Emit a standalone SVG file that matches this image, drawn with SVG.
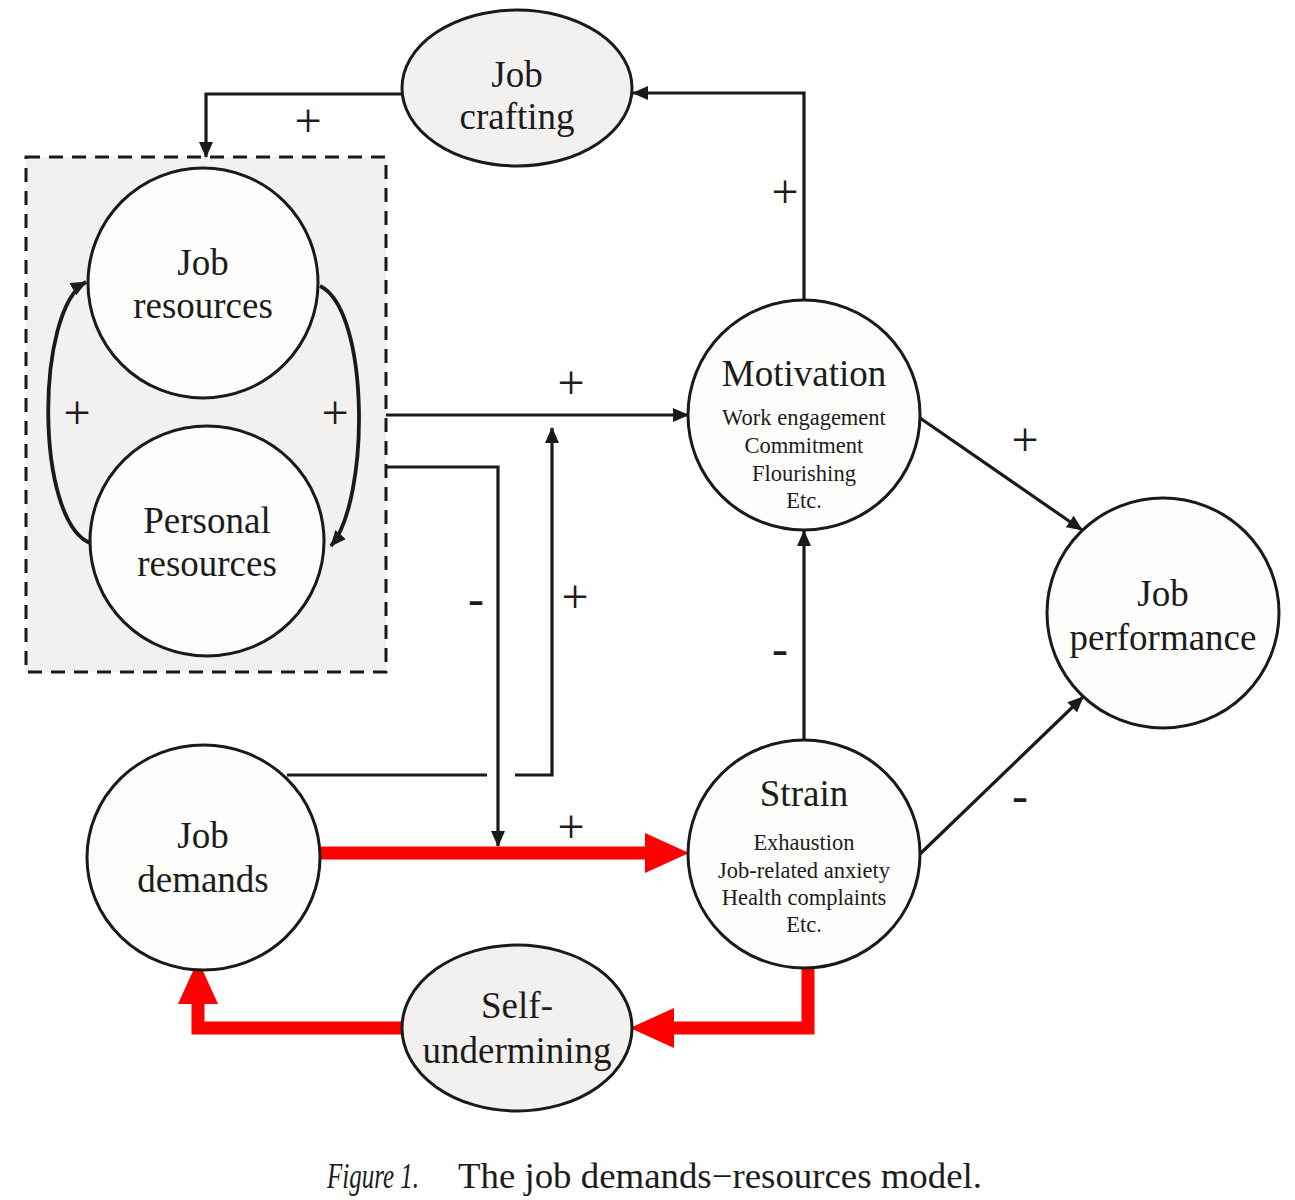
<svg xmlns="http://www.w3.org/2000/svg" width="1295" height="1200" viewBox="0 0 1295 1200">
<defs>
<style>
.node{fill:#fdfdfb;stroke:#1a1a1a;stroke-width:3}
.gray{fill:#f2f1ef;stroke:#1a1a1a;stroke-width:3}
.box{fill:#f2f1ef;stroke:#1a1a1a;stroke-width:3;stroke-dasharray:14 9}
.lbl{font-family:"Liberation Serif","Times New Roman",serif;font-size:37px;fill:#1c1c1c;text-anchor:middle}
.sm{font-family:"Liberation Serif","Times New Roman",serif;font-size:22.5px;fill:#1c1c1c;text-anchor:middle}
.sign{font-family:"Liberation Serif","Times New Roman",serif;font-size:48px;fill:#1c1c1c;text-anchor:middle}
.cap{font-family:"Liberation Serif","Times New Roman",serif;font-size:35px;fill:#1c1c1c}
.con{fill:none;stroke:#1a1a1a;stroke-width:3.2;marker-end:url(#ah)}
.plain{fill:none;stroke:#1a1a1a;stroke-width:3.2}
.curve{fill:none;stroke:#1a1a1a;stroke-width:3.8;marker-end:url(#ah)}
.red{fill:none;stroke:#ff0000;stroke-width:13;marker-end:url(#rah)}
</style>
<marker id="ah" markerUnits="userSpaceOnUse" markerWidth="16" markerHeight="14" refX="15" refY="7" orient="auto">
<path d="M0,0 L16,7 L0,14 z" fill="#1a1a1a"/>
</marker>
<marker id="rah" markerUnits="userSpaceOnUse" markerWidth="44" markerHeight="40" refX="0" refY="20" orient="auto">
<path d="M0,0 L44,20 L0,40 z" fill="#ff0000"/>
</marker>
</defs>
<rect width="1295" height="1200" fill="#ffffff"/>

<g id="resources-box">
<rect class="box" x="26" y="157" width="360" height="515"/>
</g>

<g id="connectors">
<path class="con" d="M402,94 H206 V157"/>
<path class="con" d="M804,300 V93 H633"/>
<path class="con" d="M386,415 H688"/>
<path class="con" d="M386,467 H498 V846"/>
<path class="plain" d="M287,775 H487"/>
<path class="con" d="M515,775 H552 V428"/>
<path class="con" d="M804,740 V531"/>
<path class="con" d="M920,418 L1082,530"/>
<path class="con" d="M920,854 L1083,697"/>
<path class="curve" d="M320,286 C370,310 370,500 331,546"/>
<path class="curve" d="M90,543 C35,520 35,310 86,282"/>
<path class="red" d="M320,853 H645"/>
<path class="red" d="M808,958 V1028 H674"/>
<path class="red" d="M402,1028 H198 V1004"/>
</g>

<g id="labels">
<text class="sign" x="308" y="137">+</text>
<text class="sign" x="785" y="208">+</text>
<text class="sign" x="571" y="399">+</text>
<text class="sign" x="77" y="429">+</text>
<text class="sign" x="335" y="429">+</text>
<text class="sign" x="575" y="613">+</text>
<text class="sign" x="571" y="843">+</text>
<text class="sign" x="1025" y="456">+</text>
<text class="sign" x="476" y="615">-</text>
<text class="sign" x="780" y="665">-</text>
<text class="sign" x="1020" y="812">-</text>
</g>

<g id="job-crafting">
<ellipse class="gray" cx="517" cy="88" rx="115" ry="78"/>
<text class="lbl" x="517" y="87">Job</text>
<text class="lbl" x="517" y="129">crafting</text>
</g>

<g id="job-resources">
<circle class="node" cx="203" cy="283" r="115"/>
<text class="lbl" x="203" y="275">Job</text>
<text class="lbl" x="203" y="318">resources</text>
</g>

<g id="personal-resources">
<ellipse class="node" cx="207" cy="541" rx="117" ry="115"/>
<text class="lbl" x="207" y="533">Personal</text>
<text class="lbl" x="207" y="576">resources</text>
</g>

<g id="motivation">
<ellipse class="node" cx="804" cy="415" rx="116" ry="115"/>
<text class="lbl" x="804" y="386">Motivation</text>
<text class="sm" x="804" y="425">Work engagement</text>
<text class="sm" x="804" y="453">Commitment</text>
<text class="sm" x="804" y="481">Flourishing</text>
<text class="sm" x="804" y="508">Etc.</text>
</g>

<g id="job-performance">
<ellipse class="node" cx="1163" cy="613" rx="116" ry="115"/>
<text class="lbl" x="1163" y="606">Job</text>
<text class="lbl" x="1163" y="650">performance</text>
</g>

<g id="strain">
<ellipse class="node" cx="804" cy="854" rx="116" ry="114"/>
<text class="lbl" x="804" y="806">Strain</text>
<text class="sm" x="804" y="850">Exhaustion</text>
<text class="sm" x="804" y="878">Job-related anxiety</text>
<text class="sm" x="804" y="905">Health complaints</text>
<text class="sm" x="804" y="932">Etc.</text>
</g>

<g id="job-demands">
<ellipse class="node" cx="203.5" cy="857.5" rx="116.5" ry="112.5"/>
<text class="lbl" x="203" y="848">Job</text>
<text class="lbl" x="203" y="892">demands</text>
</g>

<g id="self-undermining">
<ellipse class="gray" cx="517" cy="1028" rx="115" ry="83"/>
<text class="lbl" x="517" y="1018">Self-</text>
<text class="lbl" x="517" y="1063">undermining</text>
</g>

<g id="caption">
<text class="cap" x="327" y="1188" font-style="italic" textLength="92" lengthAdjust="spacingAndGlyphs">Figure 1.</text>
<text class="cap" x="458" y="1188" textLength="524" lengthAdjust="spacingAndGlyphs">The job demands−resources model.</text>
</g>
</svg>
